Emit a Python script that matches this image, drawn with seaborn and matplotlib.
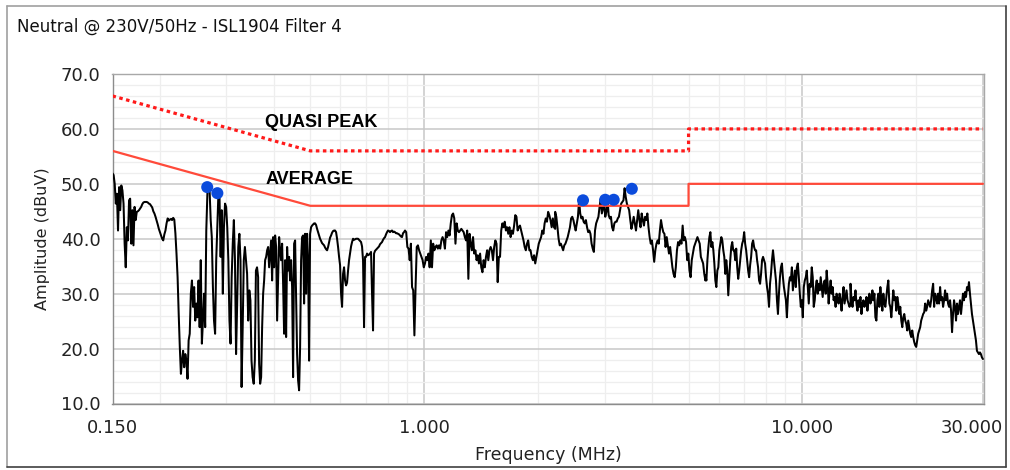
import numpy as np
import pandas as pd
import matplotlib
matplotlib.use("Agg")
import matplotlib.pyplot as plt
import seaborn as sns
from matplotlib.ticker import FixedLocator, FixedFormatter, MultipleLocator, NullFormatter
from matplotlib.lines import Line2D

# ---------------- data ----------------
title = "Neutral @ 230V/50Hz - ISL1904 Filter 4"
x_label = "Frequency (MHz)"
y_label = "Amplitude (dBuV)"

x_major = [0.15, 1.0, 10.0, 30.0]
x_major_labels = ["0.150", "1.000", "10.000", "30.000"]
x_minor = [0.2, 0.3, 0.4, 0.5, 0.6, 0.7, 0.8, 0.9, 2, 3, 4, 5, 6, 7, 8, 9, 20]
y_major = [10, 20, 30, 40, 50, 60, 70]

# limit lines (MHz, dBuV)
qp_freq = [0.15, 0.5, 5.0, 5.0, 30.0]
qp_db = [66.0, 56.0, 56.0, 60.0, 60.0]
avg_freq = [0.15, 0.5, 5.0, 5.0, 30.0]
avg_db = [56.0, 46.0, 46.0, 50.0, 50.0]

# detected peaks
peak_freq = [0.267, 0.284, 2.63, 3.01, 3.17, 3.54]
peak_db = [49.4, 48.3, 47.0, 47.1, 47.1, 49.1]

# measured trace: sweep split in bands, readings in dBuV
band_edges = [0.15, 0.364, 0.89, 2.22, 5.54, 13.4, 30.0]
band1 = [51.9, 51.6, 50.0, 46.4, 48.2, 41.5, 49.4, 45.2, 49.7, 48.8, 46.4, 39.1, 34.8, 42.1, 39.7, 47.0,
         47.3, 39.1, 45.2, 38.8, 45.8, 43.4, 44.9, 45.0, 45.2, 45.5, 45.8, 46.3, 46.6, 46.7, 46.7, 46.7,
         46.6, 46.4, 46.3, 46.0, 45.7, 45.0, 44.6, 44.0, 43.3, 42.6, 41.8, 41.2, 40.6, 40.0, 39.7, 40.8,
         41.5, 42.8, 43.7, 43.3, 43.5, 43.6, 43.4, 43.8, 43.5, 41.0, 37.3, 33.0, 26.3, 20.3, 15.4, 17.8,
         19.6, 16.6, 19.0, 17.8, 14.5, 21.5, 22.7, 30.0, 32.4, 27.6, 31.2, 25.1, 28.2, 25.7, 32.4, 23.9,
         36.1, 20.9, 25.1, 30.0, 23.9, 41.5, 48.2, 50.0, 48.8, 43.4, 40.3, 31.2, 25.1, 22.7, 36.1, 42.1,
         48.2, 47.6, 36.7, 45.2, 30.0, 42.1, 46.4, 45.8, 42.1, 36.1, 25.1, 20.9, 33.0, 39.1, 43.4, 36.1,
         19.0, 28.2, 38.5, 40.9, 36.1, 13.0, 23.9, 36.1, 38.5, 36.1, 33.6, 25.1, 30.6, 28.8, 17.8, 14.8,
         13.6, 17.8, 34.2, 34.8, 33.0]
band2 = [31.2, 17.2, 13.6, 14.8, 23.9, 30.0, 32.4, 36.1, 36.7, 37.9, 38.5, 34.8, 37.3, 39.7, 32.4, 40.3,
         34.8, 40.6, 38.5, 25.1, 33.0, 40.3, 37.9, 36.1, 39.1, 31.8, 22.7, 36.1, 22.1, 38.5, 34.2, 36.7,
         32.4, 36.1, 31.2, 14.8, 39.1, 39.7, 28.8, 19.0, 14.2, 12.4, 20.3, 36.1, 40.3, 40.6, 28.2, 40.9,
         30.0, 40.9, 36.1, 17.8, 40.9, 42.1, 42.4, 42.6, 42.8, 42.8, 42.5, 41.8, 41.2, 40.6, 40.0, 39.6,
         39.2, 39.0, 38.8, 38.4, 38.1, 37.9, 38.5, 39.4, 40.2, 40.6, 41.1, 41.4, 41.5, 41.5, 41.2, 40.0,
         38.5, 36.7, 35.2, 30.0, 27.6, 33.6, 34.8, 32.4, 31.5, 32.0, 34.2, 36.1, 37.4, 38.6, 39.4, 40.0,
         39.8, 39.9, 40.0, 40.0, 40.0, 39.8, 39.6, 39.4, 38.6, 36.0, 23.9, 36.7, 36.7, 37.3, 37.0, 37.1,
         37.3, 37.6, 30.0, 23.3, 37.3, 37.8, 38.0, 38.2, 38.4, 38.6, 39.0, 39.2, 39.4, 39.8, 40.1, 40.3,
         40.8, 41.2, 41.5, 41.4, 41.2, 41.4, 41.5, 41.2, 41.3, 41.2, 41.0, 41.0, 40.9, 40.8, 40.6, 40.4,
         40.3, 41.0, 41.2, 41.5]
band3 = [41.5, 41.2, 38.5, 38.2, 36.1, 39.1, 31.2, 30.6, 22.4, 31.2, 38.5, 38.8, 37.9, 37.3, 36.7, 36.1,
         34.8, 35.5, 36.7, 36.1, 37.3, 34.8, 39.7, 34.8, 39.1, 37.9, 38.5, 38.8, 38.2, 38.8, 38.2, 39.7,
         40.3, 39.7, 38.2, 41.2, 40.3, 41.5, 40.6, 42.8, 44.3, 44.6, 43.7, 39.1, 42.8, 41.5, 41.2, 41.5,
         41.8, 41.5, 41.2, 40.3, 39.7, 41.5, 32.7, 40.9, 39.1, 37.9, 40.3, 37.3, 37.9, 36.1, 37.0, 35.5,
         37.3, 34.8, 33.9, 36.1, 34.8, 36.7, 37.9, 36.1, 37.9, 38.5, 37.9, 36.1, 38.5, 39.7, 39.1, 32.1,
         36.7, 36.7, 41.5, 42.8, 42.1, 43.1, 41.5, 42.1, 40.9, 42.1, 40.3, 41.5, 40.9, 42.4, 44.3, 44.0,
         41.5, 42.1, 42.4, 41.5, 40.6, 39.7, 38.5, 37.9, 39.1, 39.7, 37.9, 37.9, 36.7, 36.1, 37.0, 35.5,
         36.7, 37.9, 39.1, 39.7, 40.3, 41.5, 40.9, 42.8, 43.7, 43.1, 44.9, 44.3, 43.4, 42.1, 43.7, 42.1,
         41.8]
band4 = [44.9, 44.0, 42.1, 40.0, 38.8, 39.1, 38.5, 37.9, 38.8, 39.1, 39.7, 40.3, 41.2, 42.1, 43.7, 44.0,
         43.4, 42.4, 41.5, 42.8, 44.0, 47.0, 44.6, 43.7, 44.0, 43.1, 42.8, 43.4, 42.1, 41.2, 41.5, 40.9,
         39.1, 38.2, 37.6, 41.5, 42.8, 43.4, 44.0, 45.8, 47.2, 44.6, 45.5, 46.4, 44.0, 44.9, 47.2, 44.3,
         43.7, 44.0, 42.1, 41.5, 42.8, 43.1, 43.1, 43.7, 44.0, 45.2, 46.4, 46.7, 47.0, 49.2, 47.6, 46.4,
         45.8, 45.2, 43.4, 41.8, 42.8, 44.0, 42.8, 41.5, 43.4, 45.2, 43.4, 42.1, 44.6, 43.4, 42.4, 44.0,
         43.4, 44.6, 42.1, 40.3, 39.1, 39.7, 37.9, 35.8, 37.9, 39.1, 39.7, 39.1, 41.5, 43.4, 42.1, 41.2,
         40.9, 38.5, 40.3, 38.8, 37.3, 38.5, 36.7, 34.8, 33.6, 33.0, 34.8, 37.9, 39.4, 38.8, 39.7, 39.1,
         42.4, 39.7, 40.3, 39.4, 36.1, 37.3, 34.2, 33.0, 36.1, 37.3, 38.5, 39.1, 39.7, 40.3, 39.7, 39.1,
         36.7, 36.1, 35.5, 33.6, 32.4]
band5 = [33.3, 32.4, 36.1, 38.5, 40.3, 41.2, 38.5, 39.4, 37.9, 35.5, 32.4, 31.2, 34.2, 34.8, 37.9, 39.1,
         40.3, 39.7, 37.9, 36.7, 33.6, 36.1, 34.2, 29.7, 33.0, 36.1, 38.5, 39.4, 37.9, 37.9, 36.1, 38.2,
         34.8, 32.7, 34.2, 36.1, 37.9, 39.1, 39.7, 41.2, 39.1, 37.9, 36.1, 34.2, 33.0, 35.2, 36.7, 39.1,
         39.7, 38.5, 37.9, 37.9, 36.1, 34.8, 32.4, 31.8, 33.6, 36.1, 36.7, 36.1, 35.5, 33.0, 31.2, 30.0,
         27.6, 31.8, 33.6, 36.1, 37.9, 36.1, 34.2, 32.4, 28.8, 26.3, 30.0, 33.0, 34.8, 35.5, 33.0, 31.2,
         30.0, 28.8, 25.7, 29.4, 31.8, 33.0, 32.4, 34.8, 30.6, 32.4, 34.2, 31.2, 34.8, 35.5, 33.0, 30.0,
         27.6, 28.8, 25.7, 31.2, 32.4, 33.0, 34.2, 31.2, 28.2, 31.8, 31.2, 34.8, 33.0, 27.6, 28.8, 31.2,
         32.4, 30.0, 31.8, 30.6, 33.0, 31.2, 29.4, 31.8, 32.4, 30.0, 34.2, 31.8, 28.2, 30.6, 32.4, 30.0,
         31.2, 28.8, 29.4, 27.6, 30.0, 28.8, 28.2, 30.0, 28.8, 26.9, 29.4, 31.2, 28.2, 29.4, 30.6, 28.8,
         28.2, 27.6, 28.2]
band6 = [31.8, 28.8, 27.6, 29.4, 28.8, 30.6, 28.2, 26.9, 28.8, 27.6, 29.4, 26.3, 28.2, 28.8, 27.6, 28.2,
         29.4, 26.9, 28.8, 30.0, 28.2, 28.8, 30.6, 28.8, 30.0, 25.7, 25.1, 28.8, 30.0, 27.6, 31.2, 28.8,
         26.9, 30.0, 28.2, 27.6, 29.4, 31.2, 32.4, 28.2, 27.6, 25.7, 28.2, 30.6, 28.8, 29.4, 26.9, 29.4,
         28.2, 26.3, 27.6, 25.1, 23.9, 25.7, 26.3, 25.1, 24.5, 23.3, 25.1, 23.9, 22.7, 22.1, 23.3, 22.1,
         21.2, 20.6, 20.3, 21.5, 22.7, 23.3, 23.9, 25.1, 25.7, 26.3, 26.6, 28.2, 26.9, 27.6, 28.8, 28.2,
         27.6, 28.8, 30.6, 31.8, 27.6, 30.0, 29.4, 28.2, 30.0, 28.2, 31.2, 28.8, 29.4, 27.6, 28.8, 30.6,
         28.8, 30.0, 28.2, 27.6, 28.8, 26.9, 23.0, 26.3, 28.8, 27.6, 25.1, 28.2, 26.3, 27.6, 28.8, 26.3,
         28.2, 30.0, 28.8, 30.3, 29.4, 31.2, 30.6, 32.1, 30.0, 28.2, 26.3, 25.1, 23.9, 22.7, 21.5, 19.6,
         19.3, 19.0, 19.3, 19.0, 18.4, 18.1]
bands = [band1, band2, band3, band4, band5, band6]

# ---------------- build table ----------------
freq_parts = [np.geomspace(band_edges[i], band_edges[i + 1], len(b)) for i, b in enumerate(bands)]
trace = pd.DataFrame({"freq": np.concatenate(freq_parts), "amp": np.concatenate(bands)})
peaks = pd.DataFrame({"freq": peak_freq, "amp": peak_db})
qp = pd.DataFrame({"freq": qp_freq, "amp": qp_db})
avg = pd.DataFrame({"freq": avg_freq, "amp": avg_db})

# ---------------- style ----------------
sns.set_theme(style="white")
plt.rcParams["font.family"] = ["DejaVu Sans"]

W, H = 1010, 470
fig = plt.figure(figsize=(W / 100, H / 100), dpi=100)
fig.patch.set_facecolor("white")
L, R, T, B = 112.5, 984.0, 74.0, 403.5
ax = fig.add_axes([L / W, 1 - B / H, (R - L) / W, (B - T) / H])
ax.set_facecolor("white")
ax.set_xscale("log")

sns.lineplot(data=trace, x="freq", y="amp", ax=ax, color="black", linewidth=1.45,
             estimator=None, sort=False, zorder=3)
sns.lineplot(data=avg, x="freq", y="amp", ax=ax, color="#ff4a3a", linewidth=1.6,
             estimator=None, sort=False, zorder=4)
sns.lineplot(data=qp, x="freq", y="amp", ax=ax, color="#ff1a1a", linewidth=2.3,
             estimator=None, sort=False, zorder=4)
ax.lines[-1].set_linestyle((0, (1.1, 1.1)))
ax.lines[-1].set_dash_capstyle("butt")
sns.scatterplot(data=peaks, x="freq", y="amp", ax=ax, color="#0b4bdc", s=75,
                edgecolor="none", zorder=6)

ax.set_xlim(0.15, 30.2)
ax.set_ylim(10, 70)

tick_font = 13
# last x label is placed separately so it stays inside the panel frame
ax.xaxis.set_major_locator(FixedLocator(x_major))
ax.xaxis.set_major_formatter(FixedFormatter(x_major_labels[:-1] + [""]))
ax.xaxis.set_minor_locator(FixedLocator(x_minor))
ax.xaxis.set_minor_formatter(NullFormatter())
ax.yaxis.set_major_locator(FixedLocator(y_major))
ax.yaxis.set_major_formatter(matplotlib.ticker.FuncFormatter(lambda v, p: f"{v:.1f}"))
ax.yaxis.set_minor_locator(MultipleLocator(2))

ax.grid(which="major", color="#c8c8c8", linewidth=1.1, zorder=0)
ax.grid(which="minor", color="#eeeeee", linewidth=0.9, zorder=0)
ax.set_axisbelow(True)

ax.tick_params(axis="y", which="major", direction="out", length=4.5, width=1,
               color="#333333", labelsize=tick_font, labelcolor="#222222", pad=4)
ax.tick_params(axis="x", which="major", direction="out", length=5.5, width=1,
               color="#333333", labelsize=tick_font, labelcolor="#222222", pad=5.5)
ax.tick_params(axis="x", which="minor", direction="out", length=4, width=1, color="#333333")
ax.tick_params(axis="y", which="minor", length=0)
for s in ax.spines.values():
    s.set_color("#a8a8a8")
    s.set_linewidth(1.0)
ax.spines["left"].set_color("#8c8c8c")
ax.spines["bottom"].set_color("#8c8c8c")

fx = lambda x: x / W
fy = lambda y: 1 - y / H

fig.text(fx(1003), fy(418.8), x_major_labels[-1], ha="right", va="top",
         fontsize=tick_font, color="#222222")

ax.set_xlabel("")
ax.set_ylabel("")
fig.text(548 / W, 1 - 455 / H, x_label, ha="center", va="center", fontsize=12.5, color="#222222")
fig.text(43 / W, 1 - 239 / H, y_label, ha="center", va="center", rotation=90,
         fontsize=11.5, color="#222222")
fig.text(17 / W, 1 - 27 / H, title, ha="left", va="center", fontsize=12, color="#111111")

ax.text(0.38, 61.2, "QUASI PEAK", fontsize=13, fontweight="bold", family="Liberation Sans",
        va="center", ha="left", color="black", zorder=7)
ax.text(0.38, 50.85, "AVERAGE", fontsize=13, fontweight="bold", family="Liberation Sans",
        va="center", ha="left", color="black", zorder=7)

# outer panel frame
fig.add_artist(Line2D([fx(7), fx(1006)], [fy(6), fy(6)], color="#a0a0a0", lw=1.2))
fig.add_artist(Line2D([fx(7), fx(7)], [fy(6), fy(467)], color="#a0a0a0", lw=1.2))
fig.add_artist(Line2D([fx(1006), fx(1006)], [fy(6), fy(467)], color="#404040", lw=1.2))
fig.add_artist(Line2D([fx(7), fx(1006)], [fy(467), fy(467)], color="#404040", lw=1.2))

fig.savefig("out.png", dpi=100)
